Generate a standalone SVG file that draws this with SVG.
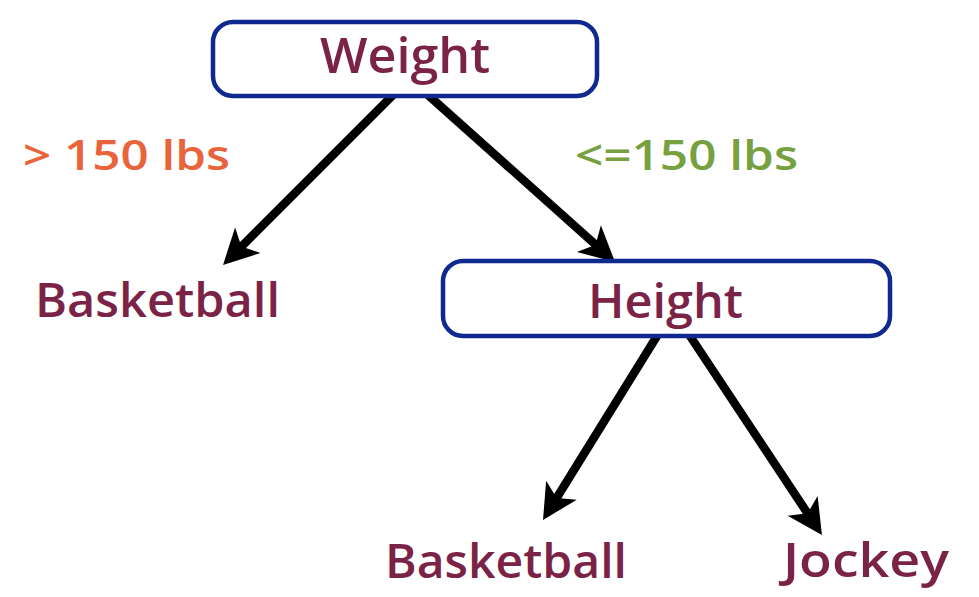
<svg xmlns="http://www.w3.org/2000/svg" width="979" height="597" viewBox="0 0 979 597">
<defs>
<style>
.box{fill:#ffffff;stroke:#10298e;stroke-width:4.5}
.t{font-family:"Open Sans","Liberation Sans",sans-serif;font-weight:600;fill:#7a2346}
.lbl{font-family:"Open Sans","Liberation Sans",sans-serif;font-weight:600;font-size:41px}
.edge{stroke:#000;stroke-width:8.5;fill:none;marker-end:url(#ah)}
</style>
<marker id="ah" markerUnits="userSpaceOnUse" viewBox="-20 -22 45 44" markerWidth="45" markerHeight="44" refX="0" refY="0" orient="auto">
<path d="M22,0 L-13,-18 L-4,0 L-13,18 Z" fill="#000"/>
</marker>
</defs>
<rect width="979" height="597" fill="#ffffff"/>
<g id="connectors">
<line class="edge" x1="393" y1="95" x2="238.6" y2="249.4"/>
<line class="edge" x1="428" y1="95" x2="598.6" y2="247.3"/>
<line class="edge" x1="657" y1="336" x2="554.6" y2="501.3"/>
<line class="edge" x1="690" y1="336" x2="809.8" y2="516.7"/>
</g>
<g id="weight">
<rect class="box" x="213" y="22" width="384" height="74" rx="20"/>
<text class="t" x="405" y="73" font-size="49" text-anchor="middle" textLength="170" lengthAdjust="spacingAndGlyphs">Weight</text>
</g>
<g id="height">
<rect class="box" x="443" y="261" width="447" height="75" rx="20"/>
<text class="t" x="665.5" y="318" font-size="47" text-anchor="middle" textLength="155" lengthAdjust="spacingAndGlyphs">Height</text>
</g>
<g id="label-gt">
<text class="lbl" x="23" y="170" fill="#e9643a" textLength="207" lengthAdjust="spacingAndGlyphs">&gt; 150 lbs</text>
</g>
<g id="label-le">
<text class="lbl" x="575" y="170" fill="#77a040" textLength="223" lengthAdjust="spacingAndGlyphs">&lt;=150 lbs</text>
</g>
<g id="basketball-1">
<text class="t" x="35" y="317" font-size="47" textLength="245" lengthAdjust="spacingAndGlyphs">Basketball</text>
</g>
<g id="basketball-2">
<text class="t" x="385" y="578" font-size="47" textLength="242" lengthAdjust="spacingAndGlyphs">Basketball</text>
</g>
<g id="jockey">
<text class="t" x="783" y="577" font-size="47" textLength="166" lengthAdjust="spacingAndGlyphs">Jockey</text>
</g>
</svg>
